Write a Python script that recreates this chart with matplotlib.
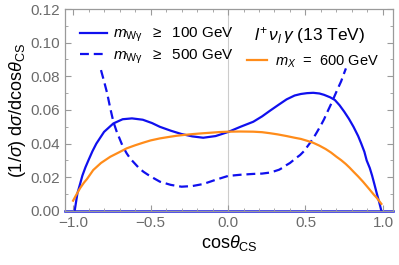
import numpy as np
import matplotlib
matplotlib.use('Agg')
from matplotlib import pyplot as plt
from matplotlib.ticker import MultipleLocator

plt.rcParams['font.family'] = ['Liberation Sans', 'DejaVu Sans']
plt.rcParams['mathtext.fontset'] = 'custom'
plt.rcParams['mathtext.rm'] = 'Liberation Sans'
plt.rcParams['mathtext.it'] = 'Liberation Sans:italic'

# values
x_100 = [-0.99, -0.972, -0.955, -0.94, -0.92, -0.90, -0.875, -0.85, -0.80, -0.74, -0.68, -0.62, -0.55,
         -0.49, -0.44, -0.37, -0.30, -0.23, -0.16, -0.08, 0.0, 0.08, 0.163, 0.22, 0.27, 0.325, 0.378,
         0.43, 0.47, 0.51, 0.55, 0.59, 0.62, 0.66, 0.69, 0.72, 0.75, 0.78, 0.81, 0.84, 0.86, 0.88,
         0.895, 0.915, 0.93, 0.945, 0.96, 0.975, 0.99]
y_100 = [0.0, 0.0105, 0.016, 0.021, 0.026, 0.0303, 0.0355, 0.040, 0.047, 0.052, 0.0545, 0.055, 0.0542,
         0.0522, 0.050, 0.0477, 0.0457, 0.0443, 0.0435, 0.0445, 0.0469, 0.050, 0.053, 0.0562, 0.0595, 0.063, 0.0663,
         0.0686, 0.0695, 0.070, 0.0702, 0.0698, 0.069, 0.0675, 0.0659, 0.0628, 0.059, 0.0548, 0.050, 0.0445, 0.040, 0.0352,
         0.030, 0.0255, 0.021, 0.0158, 0.0105, 0.0055, 0.0]

x_500 = [-0.82, -0.80, -0.78, -0.76, -0.74, -0.72, -0.70, -0.68, -0.654, -0.63, -0.60, -0.575, -0.546,
         -0.52, -0.49, -0.44, -0.37, -0.30, -0.23, -0.16, -0.08, 0.0, 0.08, 0.163, 0.22, 0.27, 0.30, 0.33,
         0.355, 0.378, 0.40, 0.42, 0.44, 0.465, 0.49, 0.51, 0.53, 0.55, 0.575, 0.60, 0.62, 0.637, 0.665,
         0.69, 0.71, 0.73, 0.745, 0.761]
y_500 = [0.0837, 0.077, 0.0699, 0.061, 0.053, 0.0475, 0.043, 0.0385, 0.0342, 0.031, 0.028, 0.0255, 0.0233,
         0.0217, 0.020, 0.0174, 0.0155, 0.0144, 0.0148, 0.016, 0.0185, 0.0208, 0.0215, 0.022, 0.0222, 0.0228, 0.0236, 0.0245,
         0.0258, 0.0273, 0.0285, 0.030, 0.0315, 0.0332, 0.0355, 0.038, 0.0405, 0.0431, 0.047, 0.051, 0.0545,
         0.058, 0.0635, 0.0688, 0.073, 0.077, 0.0808, 0.0847]

x_600 = [-1.0, -0.98, -0.955, -0.93, -0.91, -0.87, -0.82, -0.76, -0.70, -0.654, -0.60, -0.55, -0.50, -0.44,
         -0.38, -0.33, -0.28, -0.224, -0.17, -0.11, -0.05, 0.0, 0.08, 0.163, 0.22, 0.27, 0.32, 0.378, 0.43,
         0.47, 0.51, 0.55, 0.59, 0.63, 0.665, 0.70, 0.73, 0.76, 0.785, 0.81, 0.84, 0.87, 0.895, 0.916,
         0.94, 0.96, 0.975, 0.99]
y_600 = [0.0061, 0.0095, 0.0135, 0.0168, 0.019, 0.0243, 0.0285, 0.0322, 0.035, 0.0372, 0.039, 0.0405, 0.0419, 0.0431,
         0.044, 0.0447, 0.0452, 0.0457, 0.0461, 0.0465, 0.0469, 0.0471, 0.0472, 0.0471, 0.0468, 0.0462, 0.0455, 0.0445, 0.0435,
         0.0428, 0.0417, 0.0405, 0.0388, 0.0368, 0.0347, 0.0322, 0.0302, 0.0279, 0.0257, 0.0233, 0.0205, 0.0175, 0.0148, 0.0125,
         0.0098, 0.0078, 0.006, 0.0042]

blue = '#1010ee'
orange = '#ff8c1a'
frame = '#9a9a9a'
lab = '#6b6b6b'

fig = plt.figure(figsize=(3.99, 2.65), dpi=100)
ax = fig.add_axes([0.163, 0.204, 0.822, 0.762])

ax.axvline(0, color='#cccccc', lw=0.8, zorder=0)
ax.axhline(0, color=blue, lw=1.8, zorder=1, clip_on=False)
l1, = ax.plot(x_100, y_100, color=blue, lw=1.6)
l2, = ax.plot(x_500, y_500, color=blue, lw=1.6, ls=(0, (4, 2.2)))
l3, = ax.plot(x_600, y_600, color=orange, lw=1.6)

ax.set_xlim(-1.052, 1.065)
ax.set_ylim(0, 0.12)
ax.xaxis.set_major_locator(MultipleLocator(0.5))
ax.xaxis.set_minor_locator(MultipleLocator(0.1))
ax.yaxis.set_major_locator(MultipleLocator(0.02))
ax.yaxis.set_minor_locator(MultipleLocator(0.01))
ax.set_yticklabels(['%.2f' % v for v in ax.get_yticks()])
ax.set_xticks([-1.0, -0.5, 0.0, 0.5, 1.0])
ax.set_xticklabels(['\u22121.0', '\u22120.5', '0.0', '0.5', '1.0'])
ax.tick_params(which='both', direction='in', top=True, right=True, color=frame,
               labelcolor=lab, labelsize=11)
ax.tick_params(which='major', length=4, width=0.8)
ax.tick_params(which='minor', length=2, width=0.6)
for s in ax.spines.values():
    s.set_color(frame)
    s.set_linewidth(0.9)

ax.set_xlabel(r'cos$\theta_{\rm CS}$', fontsize=13, labelpad=2)
ax.set_ylabel(r'(1/$\sigma$) d$\sigma$/dcos$\theta_{\rm CS}$', fontsize=13, labelpad=2)

leg1 = ax.legend([l1, l2], [r'$m_{\rm W\gamma}$  $\geq$  100 GeV', r'$m_{\rm W\gamma}$  $\geq$  500 GeV'],
                 loc='upper left', bbox_to_anchor=(0.045, 0.915), frameon=False, fontsize=11,
                 handlelength=1.75, handletextpad=0.45, labelspacing=0.2, borderaxespad=0, borderpad=0)
ax.add_artist(leg1)
ax.legend([l3], [r'$m_X$  =  600 GeV'], loc='upper left', bbox_to_anchor=(0.555, 0.78),
          frameon=False, fontsize=10.5, handlelength=1.4, handletextpad=0.5, borderaxespad=0, borderpad=0)
ax.text(0.575, 0.845, r'$l^{+}\,\nu_l\,\gamma$ (13 TeV)', transform=ax.transAxes, fontsize=12.5)

fig.savefig('out.png', dpi=100)
